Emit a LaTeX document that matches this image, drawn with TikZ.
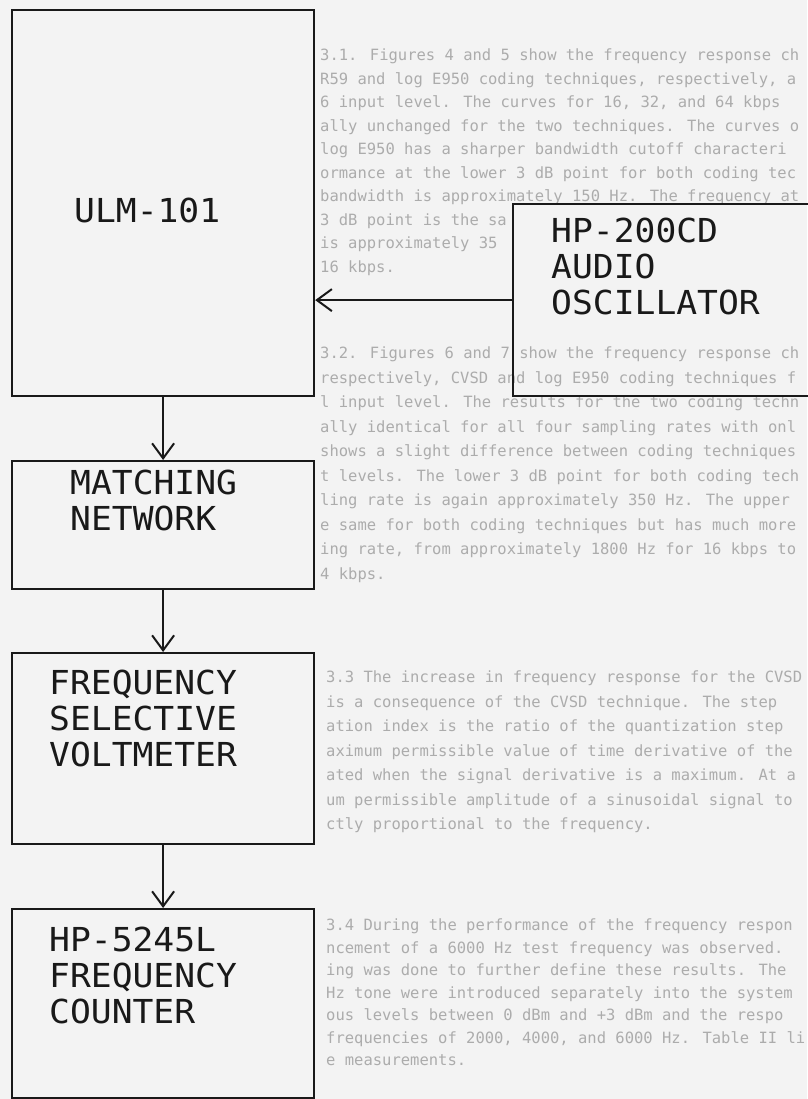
\documentclass[tikz,border=0pt]{standalone}
\usepackage{fontspec}
\usetikzlibrary{arrows.meta}
\newfontfamily\plotfont[FakeStretch=1.05]{DejaVu Sans Mono}
\newfontfamily\typefont{DejaVu Sans Mono}
\definecolor{paper}{RGB}{243,243,243}
\definecolor{ink}{RGB}{25,25,25}
\definecolor{ghost}{RGB}{172,172,172}
\begin{document}
\begin{tikzpicture}[x=1pt,y=-1pt,
  blk/.style={draw=ink, line width=2.2pt, minimum width=302pt, inner sep=0pt, anchor=north west},
  lbl/.style={font=\plotfont\fontsize{33}{36}\selectfont, text=ink, anchor=north west, inner sep=0pt, align=left},
  ghosttext/.style={font=\typefont\fontsize{15.5}{18}\selectfont, text=ghost, anchor=base west, inner sep=0pt},
  arr/.style={draw=ink, line width=2pt, -{Straight Barb[length=15pt,width=22pt,line width=2pt]}}]
\useasboundingbox (0,0) rectangle (807,1099);
\fill[paper] (0,0) rectangle (807,1099);

% faint text of the page behind the diagram
\foreach \t [count=\i from 0] in {
  {3.1. Figures 4 and 5 show the frequency response ch},
  {R59 and log E950 coding techniques, respectively, a},
  {6 input level. The curves for 16, 32, and 64 kbps},
  {ally unchanged for the two techniques. The curves o},
  {log E950 has a sharper bandwidth cutoff characteri},
  {ormance at the lower 3 dB point for both coding tec},
  {bandwidth is approximately 150 Hz. The frequency at},
  {3 dB point is the sa},
  {is approximately 35},
  {16 kbps.}}
  \node[ghosttext] (pa\i) at (320,{55+23.5*\i+5.6}) {\t};
\foreach \t [count=\i from 0] in {
  {3.2. Figures 6 and 7 show the frequency response ch},
  {respectively, CVSD and log E950 coding techniques f},
  {l input level. The results for the two coding techn},
  {ally identical for all four sampling rates with onl},
  {shows a slight difference between coding techniques},
  {t levels. The lower 3 dB point for both coding tech},
  {ling rate is again approximately 350 Hz. The upper},
  {e same for both coding techniques but has much more},
  {ing rate, from approximately 1800 Hz for 16 kbps to},
  {4 kbps.}}
  \node[ghosttext] (pb\i) at (320,{353+24.5*\i+5.6}) {\t};
\foreach \t [count=\i from 0] in {
  {3.3 The increase in frequency response for the CVSD},
  {is a consequence of the CVSD technique. The step},
  {ation index is the ratio of the quantization step},
  {aximum permissible value of time derivative of the},
  {ated when the signal derivative is a maximum. At a},
  {um permissible amplitude of a sinusoidal signal to},
  {ctly proportional to the frequency.}}
  \node[ghosttext] (pc\i) at (326,{677+24.5*\i+5.6}) {\t};
\foreach \t [count=\i from 0] in {
  {3.4 During the performance of the frequency respon},
  {ncement of a 6000 Hz test frequency was observed.},
  {ing was done to further define these results. The},
  {Hz tone were introduced separately into the system},
  {ous levels between 0 dBm and +3 dBm and the respo},
  {frequencies of 2000, 4000, and 6000 Hz. Table II li},
  {e measurements.}}
  \node[ghosttext] (pd\i) at (326,{925+22.5*\i+5.6}) {\t};

% blocks
\node[blk, fill=paper, minimum height=386pt] (ulm) at (11,9) {};
\node[blk, minimum width=330pt, minimum height=192pt] (hp) at (512,203) {};
\node[blk, fill=paper, minimum height=128pt] (match) at (11,460) {};
\node[blk, fill=paper, minimum height=191pt] (fsv) at (11,652) {};
\node[blk, fill=paper, minimum height=189pt] (ctr) at (11,908) {};

% labels
\node[lbl] (tulm) at (74,198) {ULM-101};
\node[lbl] (thp) at (551,218) {HP-200CD\\AUDIO\\OSCILLATOR};
\node[lbl] (tmatch) at (70,470) {MATCHING\\NETWORK};
\node[lbl] (tfsv) at (49,670) {FREQUENCY\\SELECTIVE\\VOLTMETER};
\node[lbl] (tctr) at (49,927) {HP-5245L\\FREQUENCY\\COUNTER};

% connectors
\draw[arr] (hp.west) -- (hp.west -| ulm.east);
\draw[arr] (ulm.south) -- (match.north);
\draw[arr] (match.south) -- (fsv.north);
\draw[arr] (fsv.south) -- (ctr.north);
\end{tikzpicture}
\end{document}
